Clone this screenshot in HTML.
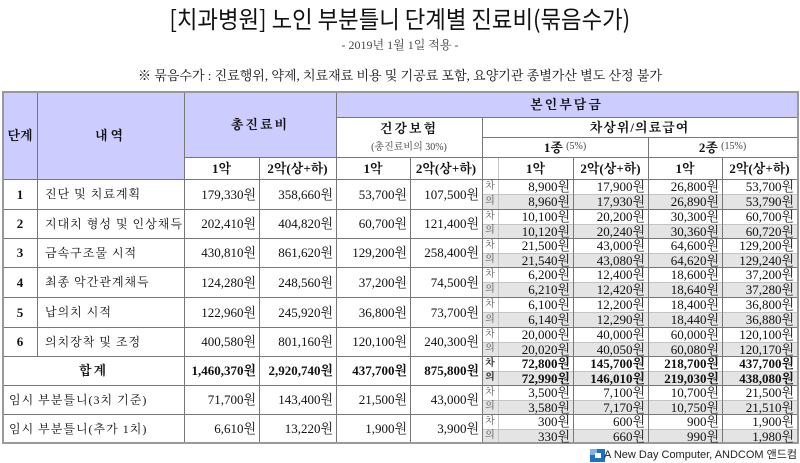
<!DOCTYPE html>
<html><head><meta charset="utf-8">
<style>
html,body{margin:0;padding:0;background:#fff;}
body{width:800px;height:463px;position:relative;overflow:hidden;font-family:"Liberation Serif","Noto Serif CJK SC",serif;color:#111;}
.a{position:absolute;box-sizing:border-box;}
.t{position:absolute;box-sizing:border-box;display:flex;align-items:center;justify-content:center;white-space:nowrap;font-size:13px;line-height:1;}
.r{justify-content:flex-end;padding-right:3px;}
.l{justify-content:flex-start;}
.b{font-weight:bold;}
.h{background:#777;}
.v{background:#777;}
.lt{background:#c4c4c4;}
.sm{font-size:10px;color:#555;}
</style></head><body>

<!-- Title -->
<div class="t" style="left:0;top:3px;width:800px;height:30px;font-family:'Noto Sans CJK KR','Noto Sans CJK SC',sans-serif;font-size:24px;color:#111;"><span style="display:inline-block;transform:scaleX(0.93);">[치과병원] 노인 부분틀니 단계별 진료비(묶음수가)</span></div>
<div class="t" style="left:0;top:37px;width:800px;height:16px;font-size:12px;color:#444;">- 2019년 1월 1일 적용 -</div>
<div class="t" style="left:0;top:67px;width:800px;height:16px;font-size:13px;color:#111;">※ 묶음수가 : 진료행위, 약제, 치료재료 비용 및 기공료 포함, 요양기관 종별가산 별도 산정 불가</div>

<!-- backgrounds -->
<div class="a" style="left:3px;top:92px;width:181px;height:87px;background:#ccccff;"></div>
<div class="a" style="left:184px;top:92px;width:152px;height:65px;background:#ccccff;"></div>
<div class="a" style="left:336px;top:92px;width:461px;height:25px;background:#ccccff;"></div>
<!-- 의 gray rows -->
<div class="a" style="left:482px;top:194px;width:315px;height:15px;background:#e4e4e4;"></div>
<div class="a" style="left:482px;top:224px;width:315px;height:14px;background:#e4e4e4;"></div>
<div class="a" style="left:482px;top:253px;width:315px;height:14px;background:#e4e4e4;"></div>
<div class="a" style="left:482px;top:282px;width:315px;height:15px;background:#e4e4e4;"></div>
<div class="a" style="left:482px;top:312px;width:315px;height:15px;background:#e4e4e4;"></div>
<div class="a" style="left:482px;top:342px;width:315px;height:14px;background:#e4e4e4;"></div>
<div class="a" style="left:482px;top:371px;width:315px;height:14px;background:#e4e4e4;"></div>
<div class="a" style="left:482px;top:400px;width:315px;height:14px;background:#e4e4e4;"></div>
<div class="a" style="left:482px;top:429px;width:315px;height:14px;background:#e4e4e4;"></div>

<!-- sub-row light lines -->
<div class="a lt" style="left:482px;top:194px;width:315px;height:1px;"></div>
<div class="a lt" style="left:482px;top:224px;width:315px;height:1px;"></div>
<div class="a lt" style="left:482px;top:253px;width:315px;height:1px;"></div>
<div class="a lt" style="left:482px;top:282px;width:315px;height:1px;"></div>
<div class="a lt" style="left:482px;top:312px;width:315px;height:1px;"></div>
<div class="a lt" style="left:482px;top:342px;width:315px;height:1px;"></div>
<div class="a lt" style="left:482px;top:371px;width:315px;height:1px;"></div>
<div class="a lt" style="left:482px;top:400px;width:315px;height:1px;"></div>
<div class="a lt" style="left:482px;top:429px;width:315px;height:1px;"></div>
<div class="a lt" style="left:498px;top:157px;width:1px;height:286px;"></div>

<!-- horizontal lines -->
<div class="a h" style="left:336px;top:117px;width:461px;height:1px;"></div>
<div class="a h" style="left:482px;top:137px;width:315px;height:1px;"></div>
<div class="a h" style="left:184px;top:157px;width:613px;height:1px;"></div>
<div class="a h" style="left:3px;top:179px;width:794px;height:1px;"></div>
<div class="a h" style="left:3px;top:209px;width:794px;height:1px;"></div>
<div class="a h" style="left:3px;top:238px;width:794px;height:1px;"></div>
<div class="a h" style="left:3px;top:267px;width:794px;height:1px;"></div>
<div class="a h" style="left:3px;top:297px;width:794px;height:1px;"></div>
<div class="a h" style="left:3px;top:327px;width:794px;height:1px;"></div>
<div class="a h" style="left:3px;top:356px;width:794px;height:1px;"></div>
<div class="a h" style="left:3px;top:385px;width:794px;height:1px;"></div>
<div class="a h" style="left:3px;top:414px;width:794px;height:1px;"></div>

<!-- vertical lines -->
<div class="a v" style="left:37px;top:92px;width:1px;height:264px;"></div>
<div class="a v" style="left:184px;top:92px;width:1px;height:351px;"></div>
<div class="a v" style="left:259px;top:157px;width:1px;height:286px;"></div>
<div class="a v" style="left:336px;top:92px;width:1px;height:351px;"></div>
<div class="a v" style="left:410px;top:157px;width:1px;height:286px;"></div>
<div class="a v" style="left:482px;top:117px;width:1px;height:326px;"></div>
<div class="a v" style="left:573px;top:157px;width:1px;height:286px;"></div>
<div class="a v" style="left:648px;top:137px;width:1px;height:306px;"></div>
<div class="a v" style="left:722px;top:157px;width:1px;height:286px;"></div>

<!-- outer border -->
<div class="a" style="left:2px;top:91px;width:797px;height:353px;border:2px solid #999;"></div>

<!-- header text -->
<div class="t b" style="left:3px;top:92px;width:34px;height:87px;">단계</div>
<div class="t b" style="left:37px;top:92px;width:147px;height:87px;letter-spacing:3px;">내역</div>
<div class="t b" style="left:184px;top:92px;width:152px;height:65px;letter-spacing:2px;">총진료비</div>
<div class="t b" style="left:336px;top:92px;width:461px;height:25px;letter-spacing:2px;">본인부담금</div>
<div class="t b" style="left:336px;top:118px;width:146px;height:20px;letter-spacing:2px;">건강보험</div>
<div class="t" style="left:336px;top:139px;width:146px;height:17px;font-size:10px;color:#444;">(총진료비의 30%)</div>
<div class="t b" style="left:482px;top:117px;width:315px;height:20px;letter-spacing:1px;">차상위/의료급여</div>
<div class="t" style="left:482px;top:137px;width:166px;height:20px;"><b>1종</b>&nbsp;<span style="font-size:10px;color:#444;">(5%)</span></div>
<div class="t" style="left:648px;top:137px;width:149px;height:20px;"><b>2종</b>&nbsp;<span style="font-size:10px;color:#444;">(15%)</span></div>
<div class="t b" style="left:184px;top:157px;width:75px;height:22px;">1악</div>
<div class="t b" style="left:259px;top:157px;width:77px;height:22px;">2악(상+하)</div>
<div class="t b" style="left:336px;top:157px;width:74px;height:22px;">1악</div>
<div class="t b" style="left:410px;top:157px;width:72px;height:22px;">2악(상+하)</div>
<div class="t b" style="left:498px;top:157px;width:75px;height:22px;">1악</div>
<div class="t b" style="left:573px;top:157px;width:75px;height:22px;">2악(상+하)</div>
<div class="t b" style="left:648px;top:157px;width:74px;height:22px;">1악</div>
<div class="t b" style="left:722px;top:157px;width:75px;height:22px;">2악(상+하)</div>

<!-- Row 1 : 179-209 -->
<div class="t b" style="left:3px;top:179px;width:34px;height:30px;">1</div>
<div class="t l" style="left:45px;top:179px;width:139px;height:30px;font-size:12px;letter-spacing:1px;">진단 및 치료계획</div>
<div class="t r" style="left:184px;top:179px;width:75px;height:30px;">179,330원</div>
<div class="t r" style="left:259px;top:179px;width:77px;height:30px;">358,660원</div>
<div class="t r" style="left:336px;top:179px;width:74px;height:30px;">53,700원</div>
<div class="t r" style="left:410px;top:179px;width:72px;height:30px;">107,500원</div>
<div class="t sm" style="left:482px;top:179px;width:16px;height:15px;">차</div>
<div class="t sm" style="left:482px;top:194px;width:16px;height:15px;">의</div>
<div class="t r" style="left:498px;top:179px;width:75px;height:15px;">8,900원</div>
<div class="t r" style="left:573px;top:179px;width:75px;height:15px;">17,900원</div>
<div class="t r" style="left:648px;top:179px;width:74px;height:15px;">26,800원</div>
<div class="t r" style="left:722px;top:179px;width:75px;height:15px;">53,700원</div>
<div class="t r" style="left:498px;top:194px;width:75px;height:15px;">8,960원</div>
<div class="t r" style="left:573px;top:194px;width:75px;height:15px;">17,930원</div>
<div class="t r" style="left:648px;top:194px;width:74px;height:15px;">26,890원</div>
<div class="t r" style="left:722px;top:194px;width:75px;height:15px;">53,790원</div>

<!-- Row 2 : 209-238 -->
<div class="t b" style="left:3px;top:209px;width:34px;height:29px;">2</div>
<div class="t l" style="left:45px;top:209px;width:139px;height:29px;font-size:12px;letter-spacing:1px;">지대치 형성 및 인상채득</div>
<div class="t r" style="left:184px;top:209px;width:75px;height:29px;">202,410원</div>
<div class="t r" style="left:259px;top:209px;width:77px;height:29px;">404,820원</div>
<div class="t r" style="left:336px;top:209px;width:74px;height:29px;">60,700원</div>
<div class="t r" style="left:410px;top:209px;width:72px;height:29px;">121,400원</div>
<div class="t sm" style="left:482px;top:209px;width:16px;height:15px;">차</div>
<div class="t sm" style="left:482px;top:224px;width:16px;height:14px;">의</div>
<div class="t r" style="left:498px;top:209px;width:75px;height:15px;">10,100원</div>
<div class="t r" style="left:573px;top:209px;width:75px;height:15px;">20,200원</div>
<div class="t r" style="left:648px;top:209px;width:74px;height:15px;">30,300원</div>
<div class="t r" style="left:722px;top:209px;width:75px;height:15px;">60,700원</div>
<div class="t r" style="left:498px;top:224px;width:75px;height:14px;">10,120원</div>
<div class="t r" style="left:573px;top:224px;width:75px;height:14px;">20,240원</div>
<div class="t r" style="left:648px;top:224px;width:74px;height:14px;">30,360원</div>
<div class="t r" style="left:722px;top:224px;width:75px;height:14px;">60,720원</div>

<!-- Row 3 : 238-267 -->
<div class="t b" style="left:3px;top:238px;width:34px;height:29px;">3</div>
<div class="t l" style="left:45px;top:238px;width:139px;height:29px;font-size:12px;letter-spacing:1px;">금속구조물 시적</div>
<div class="t r" style="left:184px;top:238px;width:75px;height:29px;">430,810원</div>
<div class="t r" style="left:259px;top:238px;width:77px;height:29px;">861,620원</div>
<div class="t r" style="left:336px;top:238px;width:74px;height:29px;">129,200원</div>
<div class="t r" style="left:410px;top:238px;width:72px;height:29px;">258,400원</div>
<div class="t sm" style="left:482px;top:238px;width:16px;height:15px;">차</div>
<div class="t sm" style="left:482px;top:253px;width:16px;height:14px;">의</div>
<div class="t r" style="left:498px;top:238px;width:75px;height:15px;">21,500원</div>
<div class="t r" style="left:573px;top:238px;width:75px;height:15px;">43,000원</div>
<div class="t r" style="left:648px;top:238px;width:74px;height:15px;">64,600원</div>
<div class="t r" style="left:722px;top:238px;width:75px;height:15px;">129,200원</div>
<div class="t r" style="left:498px;top:253px;width:75px;height:14px;">21,540원</div>
<div class="t r" style="left:573px;top:253px;width:75px;height:14px;">43,080원</div>
<div class="t r" style="left:648px;top:253px;width:74px;height:14px;">64,620원</div>
<div class="t r" style="left:722px;top:253px;width:75px;height:14px;">129,240원</div>

<!-- Row 4 : 267-297 -->
<div class="t b" style="left:3px;top:267px;width:34px;height:30px;">4</div>
<div class="t l" style="left:45px;top:267px;width:139px;height:30px;font-size:12px;letter-spacing:1px;">최종 악간관계채득</div>
<div class="t r" style="left:184px;top:267px;width:75px;height:30px;">124,280원</div>
<div class="t r" style="left:259px;top:267px;width:77px;height:30px;">248,560원</div>
<div class="t r" style="left:336px;top:267px;width:74px;height:30px;">37,200원</div>
<div class="t r" style="left:410px;top:267px;width:72px;height:30px;">74,500원</div>
<div class="t sm" style="left:482px;top:267px;width:16px;height:15px;">차</div>
<div class="t sm" style="left:482px;top:282px;width:16px;height:15px;">의</div>
<div class="t r" style="left:498px;top:267px;width:75px;height:15px;">6,200원</div>
<div class="t r" style="left:573px;top:267px;width:75px;height:15px;">12,400원</div>
<div class="t r" style="left:648px;top:267px;width:74px;height:15px;">18,600원</div>
<div class="t r" style="left:722px;top:267px;width:75px;height:15px;">37,200원</div>
<div class="t r" style="left:498px;top:282px;width:75px;height:15px;">6,210원</div>
<div class="t r" style="left:573px;top:282px;width:75px;height:15px;">12,420원</div>
<div class="t r" style="left:648px;top:282px;width:74px;height:15px;">18,640원</div>
<div class="t r" style="left:722px;top:282px;width:75px;height:15px;">37,280원</div>

<!-- Row 5 : 297-327 -->
<div class="t b" style="left:3px;top:297px;width:34px;height:30px;">5</div>
<div class="t l" style="left:45px;top:297px;width:139px;height:30px;font-size:12px;letter-spacing:1px;">납의치 시적</div>
<div class="t r" style="left:184px;top:297px;width:75px;height:30px;">122,960원</div>
<div class="t r" style="left:259px;top:297px;width:77px;height:30px;">245,920원</div>
<div class="t r" style="left:336px;top:297px;width:74px;height:30px;">36,800원</div>
<div class="t r" style="left:410px;top:297px;width:72px;height:30px;">73,700원</div>
<div class="t sm" style="left:482px;top:297px;width:16px;height:15px;">차</div>
<div class="t sm" style="left:482px;top:312px;width:16px;height:15px;">의</div>
<div class="t r" style="left:498px;top:297px;width:75px;height:15px;">6,100원</div>
<div class="t r" style="left:573px;top:297px;width:75px;height:15px;">12,200원</div>
<div class="t r" style="left:648px;top:297px;width:74px;height:15px;">18,400원</div>
<div class="t r" style="left:722px;top:297px;width:75px;height:15px;">36,800원</div>
<div class="t r" style="left:498px;top:312px;width:75px;height:15px;">6,140원</div>
<div class="t r" style="left:573px;top:312px;width:75px;height:15px;">12,290원</div>
<div class="t r" style="left:648px;top:312px;width:74px;height:15px;">18,440원</div>
<div class="t r" style="left:722px;top:312px;width:75px;height:15px;">36,880원</div>

<!-- Row 6 : 327-356 -->
<div class="t b" style="left:3px;top:327px;width:34px;height:29px;">6</div>
<div class="t l" style="left:45px;top:327px;width:139px;height:29px;font-size:12px;letter-spacing:1px;">의치장착 및 조정</div>
<div class="t r" style="left:184px;top:327px;width:75px;height:29px;">400,580원</div>
<div class="t r" style="left:259px;top:327px;width:77px;height:29px;">801,160원</div>
<div class="t r" style="left:336px;top:327px;width:74px;height:29px;">120,100원</div>
<div class="t r" style="left:410px;top:327px;width:72px;height:29px;">240,300원</div>
<div class="t sm" style="left:482px;top:327px;width:16px;height:15px;">차</div>
<div class="t sm" style="left:482px;top:342px;width:16px;height:14px;">의</div>
<div class="t r" style="left:498px;top:327px;width:75px;height:15px;">20,000원</div>
<div class="t r" style="left:573px;top:327px;width:75px;height:15px;">40,000원</div>
<div class="t r" style="left:648px;top:327px;width:74px;height:15px;">60,000원</div>
<div class="t r" style="left:722px;top:327px;width:75px;height:15px;">120,100원</div>
<div class="t r" style="left:498px;top:342px;width:75px;height:14px;">20,020원</div>
<div class="t r" style="left:573px;top:342px;width:75px;height:14px;">40,050원</div>
<div class="t r" style="left:648px;top:342px;width:74px;height:14px;">60,080원</div>
<div class="t r" style="left:722px;top:342px;width:75px;height:14px;">120,170원</div>

<!-- 합계 : 356-385 -->
<div class="t b" style="left:3px;top:356px;width:181px;height:29px;letter-spacing:2px;">합계</div>
<div class="t r b" style="left:184px;top:356px;width:75px;height:29px;">1,460,370원</div>
<div class="t r b" style="left:259px;top:356px;width:77px;height:29px;">2,920,740원</div>
<div class="t r b" style="left:336px;top:356px;width:74px;height:29px;">437,700원</div>
<div class="t r b" style="left:410px;top:356px;width:72px;height:29px;">875,800원</div>
<div class="t sm b" style="left:482px;top:356px;width:16px;height:15px;color:#222;">차</div>
<div class="t sm b" style="left:482px;top:371px;width:16px;height:14px;color:#222;">의</div>
<div class="t r b" style="left:498px;top:356px;width:75px;height:15px;">72,800원</div>
<div class="t r b" style="left:573px;top:356px;width:75px;height:15px;">145,700원</div>
<div class="t r b" style="left:648px;top:356px;width:74px;height:15px;">218,700원</div>
<div class="t r b" style="left:722px;top:356px;width:75px;height:15px;">437,700원</div>
<div class="t r b" style="left:498px;top:371px;width:75px;height:14px;">72,990원</div>
<div class="t r b" style="left:573px;top:371px;width:75px;height:14px;">146,010원</div>
<div class="t r b" style="left:648px;top:371px;width:74px;height:14px;">219,030원</div>
<div class="t r b" style="left:722px;top:371px;width:75px;height:14px;">438,080원</div>

<!-- 임시 3치 : 385-414 -->
<div class="t l" style="left:9px;top:385px;width:175px;height:29px;font-size:12px;letter-spacing:1px;">임시 부분틀니(3치 기준)</div>
<div class="t r" style="left:184px;top:385px;width:75px;height:29px;">71,700원</div>
<div class="t r" style="left:259px;top:385px;width:77px;height:29px;">143,400원</div>
<div class="t r" style="left:336px;top:385px;width:74px;height:29px;">21,500원</div>
<div class="t r" style="left:410px;top:385px;width:72px;height:29px;">43,000원</div>
<div class="t sm" style="left:482px;top:385px;width:16px;height:15px;">차</div>
<div class="t sm" style="left:482px;top:400px;width:16px;height:14px;">의</div>
<div class="t r" style="left:498px;top:385px;width:75px;height:15px;">3,500원</div>
<div class="t r" style="left:573px;top:385px;width:75px;height:15px;">7,100원</div>
<div class="t r" style="left:648px;top:385px;width:74px;height:15px;">10,700원</div>
<div class="t r" style="left:722px;top:385px;width:75px;height:15px;">21,500원</div>
<div class="t r" style="left:498px;top:400px;width:75px;height:14px;">3,580원</div>
<div class="t r" style="left:573px;top:400px;width:75px;height:14px;">7,170원</div>
<div class="t r" style="left:648px;top:400px;width:74px;height:14px;">10,750원</div>
<div class="t r" style="left:722px;top:400px;width:75px;height:14px;">21,510원</div>

<!-- 임시 추가 : 414-443 -->
<div class="t l" style="left:9px;top:414px;width:175px;height:29px;font-size:12px;letter-spacing:1px;">임시 부분틀니(추가 1치)</div>
<div class="t r" style="left:184px;top:414px;width:75px;height:29px;">6,610원</div>
<div class="t r" style="left:259px;top:414px;width:77px;height:29px;">13,220원</div>
<div class="t r" style="left:336px;top:414px;width:74px;height:29px;">1,900원</div>
<div class="t r" style="left:410px;top:414px;width:72px;height:29px;">3,900원</div>
<div class="t sm" style="left:482px;top:414px;width:16px;height:15px;">차</div>
<div class="t sm" style="left:482px;top:429px;width:16px;height:14px;">의</div>
<div class="t r" style="left:498px;top:414px;width:75px;height:15px;">300원</div>
<div class="t r" style="left:573px;top:414px;width:75px;height:15px;">600원</div>
<div class="t r" style="left:648px;top:414px;width:74px;height:15px;">900원</div>
<div class="t r" style="left:722px;top:414px;width:75px;height:15px;">1,900원</div>
<div class="t r" style="left:498px;top:429px;width:75px;height:14px;">330원</div>
<div class="t r" style="left:573px;top:429px;width:75px;height:14px;">660원</div>
<div class="t r" style="left:648px;top:429px;width:74px;height:14px;">990원</div>
<div class="t r" style="left:722px;top:429px;width:75px;height:14px;">1,980원</div>

<!-- footer -->
<svg class="a" style="left:590px;top:449px;" width="15" height="13" viewBox="0 0 15 13">
<rect x="0" y="0" width="15" height="13" fill="#1f6fc5"/>
<rect x="0" y="0" width="7" height="6" fill="#7fb2e5"/>
<rect x="5" y="4" width="6" height="5" fill="#fff"/>
</svg>
<div class="t" style="left:607px;top:448px;width:190px;height:15px;justify-content:flex-end;font-family:'Liberation Sans','Noto Sans CJK KR',sans-serif;font-size:11px;color:#222;">A New Day Computer, ANDCOM 앤드컴</div>

</body></html>
